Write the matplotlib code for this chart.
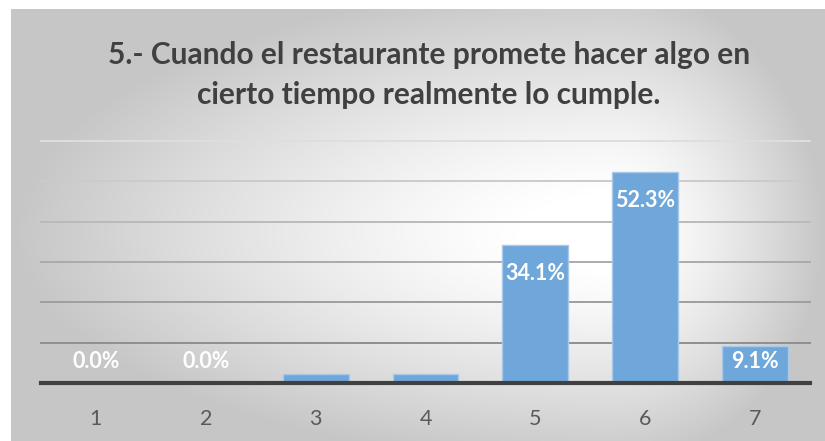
import numpy as np
import matplotlib
matplotlib.use("Agg")
import matplotlib.pyplot as plt
from matplotlib.colors import LinearSegmentedColormap

categories = ["1", "2", "3", "4", "5", "6", "7"]
percentages = [0.0, 0.0, 2.3, 2.3, 34.1, 52.3, 9.1]
shown_labels = [True, True, False, False, True, True, True]
title = "5.- Cuando el restaurante promete hacer algo en\ncierto tiempo realmente lo cumple."

W, H = 825, 441
fig = plt.figure(figsize=(W / 100, H / 100), dpi=100)
fig.patch.set_facecolor("white")

# chart area background: soft radial gradient, white near the upper right
bg = fig.add_axes([11 / W, 0, 1 - 11 / W, 1 - 9 / H])
bg.set_axis_off()
nx, ny = 814, 432
xs = np.linspace(0, 1, nx)
ys = np.linspace(0, 1, ny)
X, Y = np.meshgrid(xs, ys)
cx, cy = 0.74, 0.52
u = np.where(X < cx, (X - cx) / cx, (X - cx) / (1 - cx))
v = np.where(Y < cy, (Y - cy) / cy, (Y - cy) / (1 - cy))
r = np.clip(np.sqrt(u ** 2 + 0.8 * v ** 2), 0, 1)
r = np.clip((r - 0.15) / 0.85, 0, 1) ** 1.25
cmap = LinearSegmentedColormap.from_list("bg", ["#ffffff", "#c6c6c6"])
bg.imshow(r, cmap=cmap, vmin=0, vmax=1, aspect="auto", extent=(0, 1, 0, 1), origin="upper")
bg.set_xlim(0, 1)
bg.set_ylim(0, 1)

# plot area
x0, x1 = 41, 810
y_zero, y_top = 383, 141
ax = fig.add_axes([x0 / W, (H - y_zero) / H, (x1 - x0) / W, (y_zero - y_top) / H])
ax.patch.set_alpha(0)
ax.set_ylim(0, 60)
ax.set_xlim(-0.5, len(categories) - 0.5)

grid_colors = {10: "#8f8f8f", 20: "#9e9e9e", 30: "#ababab", 40: "#bababa", 50: "#cbcbcb", 60: "#dedede"}
for val, col in grid_colors.items():
    ax.axhline(val, color=col, lw=1.4, zorder=1, clip_on=False)

pos = np.arange(len(categories))
ax.bar(pos, percentages, width=0.6, color="#6fa7da", edgecolor="#a8c9ea", linewidth=1.0, zorder=2)
ax.axhline(0, color="#404040", lw=3, zorder=3, clip_on=False)

for p, val, show in zip(pos, percentages, shown_labels):
    if not show:
        continue
    ax.text(p, max(val - 7.0, 5.3), f"{val:.1f}%", ha="center", va="center",
            color="white", fontsize=15.5, fontweight="bold", family="Lato", zorder=4)

ax.set_yticks([])
ax.set_xticks(pos)
ax.set_xticklabels(categories, fontsize=15.5, color="#595959", family="Lato")
ax.tick_params(axis="x", length=0, pad=19)
for s in ax.spines.values():
    s.set_visible(False)

fig.text(429 / W, 1 - 75 / H, title, ha="center", va="center", fontsize=21.5,
         fontweight="bold", color="#404040", family="Lato", linespacing=1.5)

fig.savefig("out.png", dpi=100)
